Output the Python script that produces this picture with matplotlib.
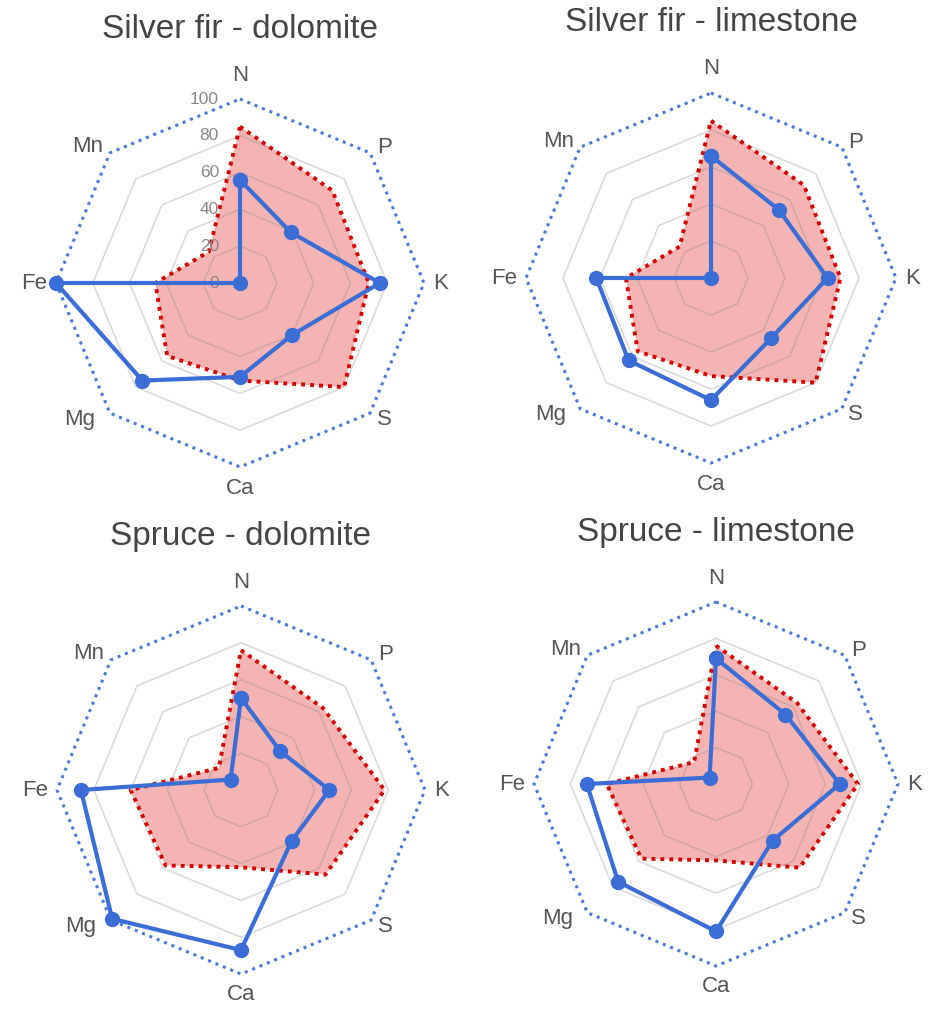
import numpy as np
import matplotlib.pyplot as plt

plt.rcParams['font.family'] = ['Liberation Sans', 'DejaVu Sans']

elements = ['N', 'P', 'K', 'S', 'Ca', 'Mg', 'Fe', 'Mn']
levels = [20, 40, 60, 80]
rmax = 100

fir_dolomite = [56, 39, 76, 40, 51, 75, 100, 0]
fir_limestone = [66, 52, 63, 46, 66, 63, 62, 0]
spruce_dolomite = [50, 30, 48, 39, 87, 99, 87, 8]
spruce_limestone = [69, 54, 68, 44, 81, 76, 71, 5]

fir_optimum = [85, 71, 70, 80, 53, 56, 46, 24]
spruce_optimum = [76, 63, 78, 65, 42, 58, 60, 17]

panels = [
    ("Silver fir - dolomite", fir_dolomite, fir_optimum, (240, 283, 184), True),
    ("Silver fir - limestone", fir_limestone, fir_optimum, (711, 278, 185), False),
    ("Spruce - dolomite", spruce_dolomite, spruce_optimum, (241, 790, 184), False),
    ("Spruce - limestone", spruce_limestone, spruce_optimum, (716, 784, 182), False),
]

# label offsets (pixels) from the outer vertex
label_off = {'N': (0, 24), 'P': (14, 5), 'K': (17, 0), 'S': (14, -6),
             'Ca': (0, -21), 'Mg': (-30, -6), 'Fe': (-22, 0), 'Mn': (-22, 6)}

W, H = 937, 1009
fig = plt.figure(figsize=(W / 100, H / 100), dpi=100)

n = len(elements)
theta = np.arange(n) * 2 * np.pi / n


def closed(v):
    return np.append(v, v[0])


for title, values, optimum, (cx, cy, R), show_ticks in panels:
    ax = fig.add_axes([(cx - R) / W, (H - cy - R) / H, 2 * R / W, 2 * R / H],
                      projection='polar')
    ax.set_theta_offset(np.pi / 2)
    ax.set_theta_direction(-1)
    ax.set_ylim(0, rmax)
    ax.axis('off')
    tc = closed(theta)

    ax.fill(tc, closed(optimum), color='#f08c8c', alpha=0.65, lw=0, zorder=1)
    for lv in levels:
        ax.plot(tc, [lv] * (n + 1), color='#808080', alpha=0.28, lw=1.2, zorder=2)
    ax.plot(tc, closed(optimum), color='#d40000', lw=2.8, ls=(0, (1, 1.3)), zorder=3)
    ax.plot(tc, [rmax] * (n + 1), color='#4a7ad8', lw=2.2, ls=(0, (1, 1.6)),
            zorder=3, clip_on=False)
    ax.plot(tc, closed(values), color='#3a6ed6', lw=3, marker='o', ms=10,
            zorder=4, clip_on=False)

    for t, name in zip(theta, elements):
        ax.annotate(name, xy=(t, rmax), xytext=label_off[name],
                    textcoords='offset pixels', ha='center', va='center',
                    fontsize=16, color='#555555', annotation_clip=False)

    if show_ticks:
        for lv in [0] + levels + [rmax]:
            ax.annotate(str(lv), xy=(0, lv), xytext=(-21, 0),
                        textcoords='offset pixels', ha='right', va='center',
                        fontsize=12.5, color='#888888', annotation_clip=False)

    ax.text(0.5, 1.19, title, transform=ax.transAxes, ha='center', va='center',
            fontsize=24, color='#444444')

fig.savefig('out.png', dpi=100)
